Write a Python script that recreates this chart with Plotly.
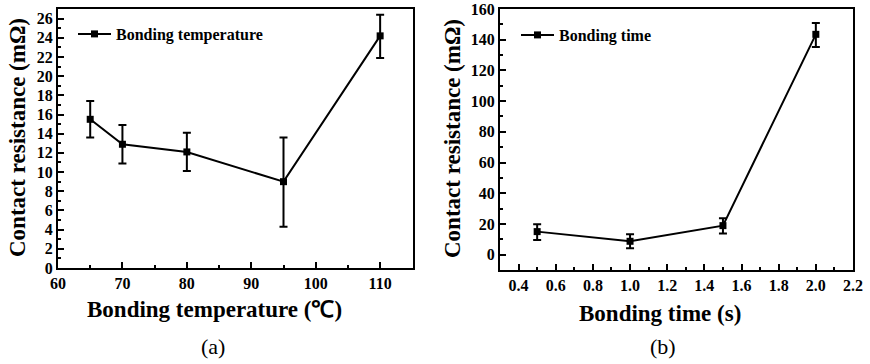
import plotly.graph_objects as go

temp_x = [65, 70, 80, 95, 110]
temp_y = [15.5, 12.9, 12.1, 9.0, 24.2]
temp_err_plus = [1.9, 2.0, 2.0, 4.6, 2.2]
temp_err_minus = [1.9, 2.0, 2.0, 4.7, 2.3]

time_x = [0.5, 1.0, 1.5, 2.0]
time_y = [15.0, 8.7, 18.9, 143.5]
time_err_plus = [4.8, 4.6, 4.8, 7.4]
time_err_minus = [5.4, 4.6, 5.2, 8.3]

FONT = "Liberation Serif"
W, H = 870, 364


def px(X):
    return X / W


def py(Y):
    return 1 - Y / H


fig = go.Figure()
fig.add_trace(go.Scatter(
    x=temp_x, y=temp_y, mode="lines+markers", name="<b>Bonding temperature</b>",
    line=dict(color="black", width=2),
    marker=dict(symbol="square", size=7, color="black"),
    error_y=dict(type="data", symmetric=False, array=temp_err_plus, arrayminus=temp_err_minus,
                 color="black", thickness=2, width=4),
    xaxis="x", yaxis="y", legend="legend"))
fig.add_trace(go.Scatter(
    x=time_x, y=time_y, mode="lines+markers", name="<b>Bonding time</b>",
    line=dict(color="black", width=2),
    marker=dict(symbol="square", size=7, color="black"),
    error_y=dict(type="data", symmetric=False, array=time_err_plus, arrayminus=time_err_minus,
                 color="black", thickness=2, width=4),
    xaxis="x2", yaxis="y2", legend="legend2"))

axis_common = dict(showline=True, linecolor="black", linewidth=2, mirror=True,
                   ticks="inside", ticklen=6, tickwidth=2, tickcolor="black",
                   showgrid=False, zeroline=False, automargin=False, ticklabeloverflow="allow",
                   tickfont=dict(family=FONT, size=16, color="black", weight="bold"))
minor_common = dict(ticks="inside", ticklen=3, tickwidth=2, tickcolor="black")

fig.update_layout(
    width=W, height=H, margin=dict(l=0, r=0, t=0, b=0),
    paper_bgcolor="white", plot_bgcolor="white",
    font=dict(family=FONT, color="black"),
    xaxis=dict(domain=[px(58), px(413)], range=[60, 115.1], dtick=10, tick0=60,
               minor=dict(dtick=5, **minor_common), anchor="y", **axis_common),
    yaxis=dict(domain=[py(268), py(9)], range=[0, 27], dtick=2, tick0=0,
               minor=dict(dtick=1, **minor_common), anchor="x", **axis_common),
    xaxis2=dict(domain=[px(500), px(853)], range=[0.3, 2.2], dtick=0.2, tick0=0.4, tickformat=".1f",
                minor=dict(dtick=0.1, **minor_common), anchor="y2", **axis_common),
    yaxis2=dict(domain=[py(270), py(9)], range=[-10, 160], dtick=20, tick0=0,
                minor=dict(dtick=10, **minor_common), anchor="x2", **axis_common),
    legend=dict(x=px(73), y=py(34), xanchor="left", yanchor="middle", bgcolor="rgba(0,0,0,0)",
                font=dict(family=FONT, size=16, color="black"), itemwidth=33),
    legend2=dict(x=px(516), y=py(35), xanchor="left", yanchor="middle", bgcolor="rgba(0,0,0,0)",
                 font=dict(family=FONT, size=16, color="black"), itemwidth=33),
    showlegend=True,
)

anns = [
    dict(text="<b>Contact resistance (mΩ)</b>", X=17, Y=138, angle=-90, size=23),
    dict(text="<b>Contact resistance (mΩ)</b>", X=452, Y=138, angle=-90, size=23),
    dict(text="<b>Bonding temperature (℃)</b>", X=214, Y=309, angle=0, size=23),
    dict(text="<b>Bonding time (s)</b>", X=660, Y=313, angle=0, size=23),
    dict(text="(a)", X=213, Y=346, angle=0, size=22),
    dict(text="(b)", X=663, Y=346, angle=0, size=22),
]
fig.update_layout(annotations=[
    dict(text=a["text"], x=px(a["X"]), y=py(a["Y"]), xref="paper", yref="paper", showarrow=False,
         textangle=a["angle"], xanchor="center", yanchor="middle",
         font=dict(family=FONT, size=a["size"], color="black")) for a in anns
])

fig.write_html("out.html", config={"displayModeBar": False},
               post_script="document.body.style.margin='0';")
